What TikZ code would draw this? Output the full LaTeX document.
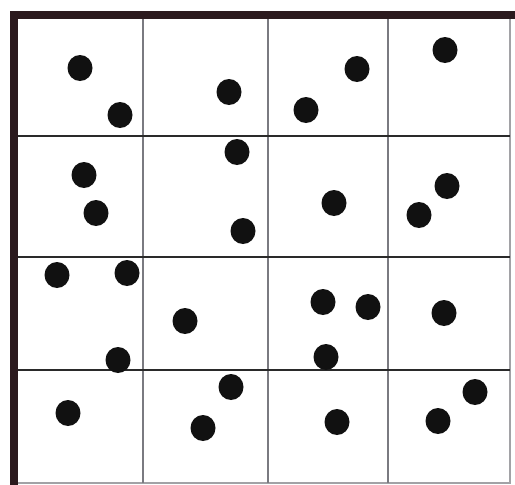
\documentclass[tikz,border=0pt]{standalone}
\definecolor{framec}{HTML}{2B1A1E}
\definecolor{gridv}{HTML}{7A7A80}
\definecolor{gridh}{HTML}{2A2A2A}
\definecolor{dotc}{HTML}{111111}
\tikzset{
  dotstyle/.style={fill=dotc},
  hline/.style={draw=gridh,line width=1.8pt},
  vline/.style={draw=gridv,line width=1.8pt},
  thinframe/.style={draw=gridv!70,line width=1.2pt},
  thickframe/.style={draw=framec,line width=8pt}
}
\begin{document}
\begin{tikzpicture}[x=1pt,y=-1pt]
\useasboundingbox (0,0) rectangle (515,485);
% thin right and bottom border
\draw[thinframe] (510,15) -- (510,483) -- (14,483);
% inner grid
\foreach \x in {143,268,388} \draw[vline] (\x,19) -- (\x,483);
\foreach \y in {136,257,370} \draw[hline] (18,\y) -- (510,\y);
% thick top and left border
\draw[thickframe] (14,485) -- (14,15) -- (515,15);
% dots
\foreach \px/\py in {
  80/68, 120/115, 229/92, 357/69, 306/110, 445/50,
  84/175, 96/213, 237/152, 243/231, 334/203, 447/186, 419/215,
  57/275, 127/273, 118/360, 185/321, 323/302, 368/307, 326/357, 444/313,
  68/413, 231/387, 203/428, 337/422, 475/392, 438/421}
  \fill[dotstyle] (\px,\py) ellipse [x radius=12.5, y radius=13];
\end{tikzpicture}
\end{document}
